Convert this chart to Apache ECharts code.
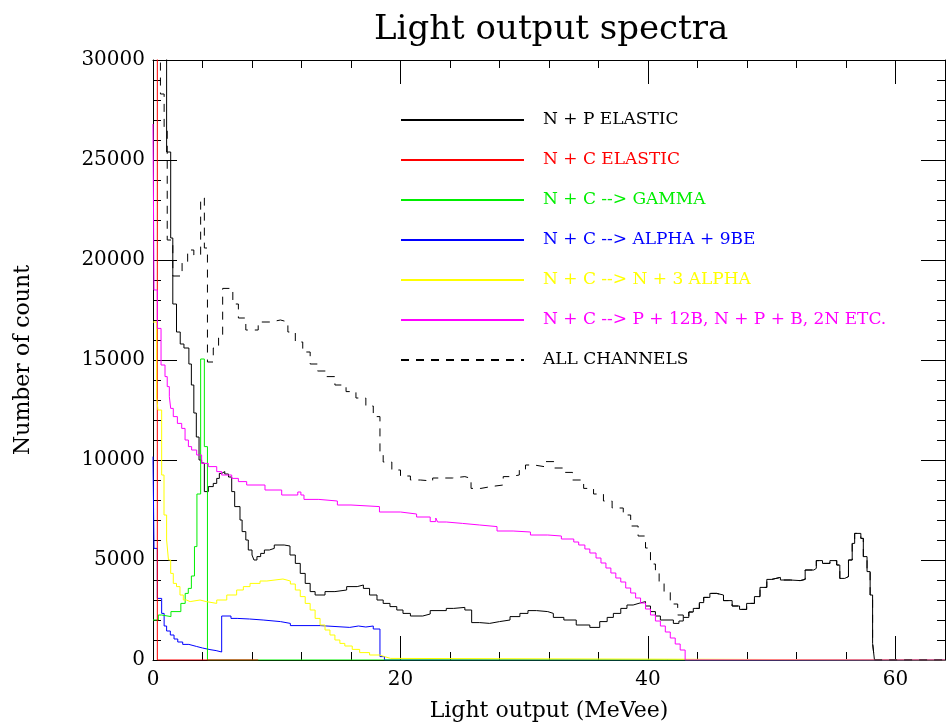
<!DOCTYPE html>
<html>
<head>
<meta charset="utf-8">
<title>Light output spectra</title>
<script src="https://cdn.jsdelivr.net/npm/echarts/dist/echarts.min.js"></script>
<style>
  html, body { margin: 0; padding: 0; background: #fff; }
  #chart { width: 947px; height: 723px; }
</style>
</head>
<body>
<div id="chart"></div>
<script>
// Histogram outlines: [left bin edge (MeVee), counts]; the last pair closes the outline.
const npElastic = [
  [0, 31000], [1.1, 25400], [1.43, 21100], [1.6, 17800], [1.9, 16400], [2.2, 15800], [2.5, 15600],
  [2.9, 14800], [3.1, 13750], [3.3, 12350], [3.5, 11150], [3.72, 10000], [3.93, 9850], [4.15, 8420],
  [4.47, 8670], [4.87, 8830], [5.15, 9080], [5.36, 9330], [5.55, 9420], [5.8, 9300], [6.1, 9150],
  [6.36, 8420], [6.6, 7670], [7.03, 7000], [7.2, 6420], [7.5, 6000], [7.7, 5500], [8.0, 5250],
  [8.16, 5000], [8.4, 5170], [8.7, 5330], [9.0, 5500], [9.4, 5580], [9.8, 5750], [10.6, 5700],
  [11.07, 5250], [11.5, 4830], [11.9, 4330], [12.3, 3830], [12.7, 3420], [13.1, 3250], [13.9, 3420],
  [14.7, 3500], [15.65, 3670], [16.5, 3750], [17.0, 3580], [17.5, 3250], [18.1, 3000], [18.6, 2830],
  [19.15, 2670], [19.7, 2500], [20.2, 2330], [20.8, 2200], [21.8, 2300], [22.4, 2470], [23.7, 2580],
  [24.3, 2630], [25.2, 2500], [25.75, 1870], [26.4, 1830], [27.2, 1920], [28.0, 2000], [28.85, 2170],
  [29.65, 2330], [30.3, 2470], [31.0, 2420], [31.9, 2330], [32.35, 2130], [33.2, 2000], [34.2, 1750],
  [35.3, 1630], [36.1, 1920], [36.7, 2130], [37.2, 2330], [37.8, 2580], [38.3, 2750], [38.8, 2850],
  [39.35, 2920], [39.8, 2700], [40.2, 2420], [40.6, 2200], [41.0, 2000], [42.05, 1830], [42.5, 1950],
  [42.85, 2130], [43.3, 2400], [43.66, 2580], [44.15, 2870], [44.5, 3130], [45.0, 3330], [45.55, 3250],
  [46.1, 2970], [46.8, 2700], [47.4, 2530], [47.97, 2830], [48.6, 3170], [49.05, 3630], [49.6, 4030],
  [50.0, 4130], [50.7, 4000], [51.5, 3970], [52.3, 4030], [52.7, 4500], [53.4, 4580], [53.6, 4970],
  [54.1, 4830], [54.7, 4970], [55.25, 4750], [55.5, 4080], [55.9, 4170], [56.2, 5000], [56.5, 5830],
  [56.7, 6330], [57.2, 6080], [57.4, 5170], [57.7, 4420], [57.95, 3250], [58.15, 830], [58.3, 0], [64, 0]
];

const ncElastic = [[0, 31000], [0.35, 0], [8.5, 0]];

const ncGamma = [
  [0, 2000], [0.43, 2250], [0.7, 2170], [1.45, 2420], [2.25, 2830], [2.6, 3330], [2.85, 3580],
  [3.1, 4200], [3.35, 5670], [3.55, 8300], [3.85, 15050], [4.15, 10670], [4.4, 0], [64, 0]
];

const ncAlpha9Be = [
  [0, 10170], [0.08, 5580], [0.35, 3080], [0.7, 2330], [0.9, 1700], [1.1, 1450], [1.4, 1250],
  [1.7, 1050], [2.0, 900], [2.4, 780], [2.9, 680], [3.5, 600], [4.0, 520], [4.6, 470], [5.1, 400],
  [5.55, 2200], [6.3, 2080], [6.8, 2050], [7.8, 2000], [8.9, 1920], [10.3, 1830], [11.1, 1720],
  [13.5, 1630], [15.9, 1700], [16.6, 1650], [17.2, 1700], [17.8, 1550], [18.34, 170], [18.7, 0], [64, 0]
];

const nc3Alpha = [
  [0, 16900], [0.3, 13100], [0.4, 12500], [0.7, 9250], [0.89, 7250], [1.1, 6000], [1.25, 5000],
  [1.43, 4330], [1.64, 3830], [1.9, 3670], [2.18, 3250], [2.45, 3000], [2.7, 2920], [3.0, 3000],
  [3.8, 2920], [4.3, 2830], [5.15, 3000], [5.96, 3250], [6.76, 3500], [7.3, 3670], [7.84, 3830],
  [8.65, 3950], [9.2, 4050], [10.5, 3950], [11.1, 3800], [11.5, 3500], [11.9, 3170], [12.3, 2830],
  [12.7, 2500], [13.1, 2080], [13.5, 1750], [13.9, 1500], [14.3, 1250], [14.7, 1000], [15.1, 830],
  [15.5, 700], [16.1, 530], [16.7, 370], [17.5, 250], [18.3, 170], [18.7, 80], [19.2, 0], [64, 0]
];

const ncProton12B = [
  [0, 26800], [0.08, 18500], [0.35, 16580], [0.65, 14750], [0.97, 14170], [1.15, 13670], [1.32, 13170],
  [1.43, 12580], [1.64, 12170], [1.97, 11830], [2.32, 11580], [2.59, 11000], [2.86, 10670], [3.12, 10500],
  [3.53, 10250], [3.93, 9830], [4.47, 9670], [5.15, 9420], [5.55, 9250], [6.36, 9080], [6.9, 8920],
  [7.57, 8750], [9.05, 8500], [10.4, 8250], [11.7, 8400], [11.95, 8250], [12.2, 8030], [13.4, 7950],
  [14.9, 7750], [16.0, 7670], [18.3, 7400], [20.0, 7300], [21.3, 7150], [22.4, 6920], [22.85, 7100],
  [23.0, 6900], [23.7, 6830], [25.0, 6750], [26.4, 6670], [27.8, 6450], [29.1, 6400], [30.5, 6250],
  [31.9, 6200], [33.0, 6050], [34.0, 5900], [34.4, 5750], [34.9, 5550], [35.3, 5350], [35.8, 5100],
  [36.2, 4850], [36.6, 4600], [37.0, 4350], [37.4, 4100], [37.8, 3900], [38.2, 3600], [38.6, 3350],
  [39.0, 3100], [39.4, 2850], [39.8, 2550], [40.2, 2250], [40.6, 1950], [41.0, 1700], [41.4, 1400],
  [41.8, 1100], [42.2, 800], [42.6, 500], [43.0, 0], [64, 0]
];

// Sum over channels up to ~43 MeVee; above that it runs on the n-p elastic outline.
const allChannelsLow = [
  [0, 31000], [0.6, 28300], [0.9, 26600], [1.15, 21000], [1.6, 19200], [2.35, 19900], [2.8, 20500],
  [3.3, 20250], [3.85, 23100], [4.15, 20600], [4.4, 14900], [4.87, 15600], [5.3, 16100], [5.63, 18580],
  [6.45, 17800], [6.9, 17100], [7.5, 16500], [8.5, 16900], [9.5, 17000], [10.3, 16900], [10.9, 16400],
  [11.5, 15900], [12.1, 15400], [12.7, 14800], [13.3, 14450], [14.0, 14170], [14.7, 13750], [15.6, 13420],
  [16.4, 13100], [17.2, 12700], [17.8, 12170], [18.34, 10300], [18.6, 9900], [19.3, 9500], [20.0, 9200],
  [20.8, 9000], [21.6, 8950], [22.6, 9100], [24.2, 9170], [25.2, 9080], [25.7, 8580], [26.5, 8670],
  [27.3, 8750], [28.3, 9170], [28.9, 9250], [29.6, 9500], [30.1, 9750], [30.8, 9670], [31.6, 9920],
  [32.4, 9600], [33.2, 9380], [33.9, 9000], [34.8, 8580], [35.6, 8300], [36.4, 7950], [37.1, 7600],
  [38.0, 7250], [38.6, 6700], [39.2, 6200], [39.8, 5600], [40.2, 4800], [40.6, 4400], [40.9, 3900],
  [41.3, 3400], [41.8, 2800], [42.4, 2250]
];
const allChannels = allChannelsLow.concat(npElastic.filter(p => p[0] >= 42.85));

const channelNames = [
  'N + P ELASTIC',
  'N + C ELASTIC',
  'N + C --> GAMMA',
  'N + C --> ALPHA + 9BE',
  'N + C --> N + 3 ALPHA',
  'N + C --> P + 12B, N + P + B, 2N ETC.',
  'ALL CHANNELS'
];
const channelColors = ['#000000', '#ff0000', '#00ee00', '#0000ff', '#ffff00', '#ff00ff', '#000000'];

const xTicks = { min: 0, max: 64, minor: 4, major: 20 };
const yTicks = { min: 0, max: 30000, minor: 1000, major: 5000 };

const FONT = "'DejaVu Serif', 'Liberation Serif', serif";

function stepSeries(idx, data, dashed) {
  return {
    name: channelNames[idx],
    type: 'line',
    step: 'end',
    data: data,
    symbol: 'none',
    clip: true,
    xAxisIndex: 0,
    yAxisIndex: 0,
    color: channelColors[idx],
    lineStyle: { color: channelColors[idx], width: 1, type: dashed ? [8, 7] : 'solid' },
    emphasis: { disabled: true },
    silent: true
  };
}

function xAxisDef(pos, step, len, withLine, withLabel) {
  return {
    type: 'value', position: pos, min: xTicks.min, max: xTicks.max, interval: step,
    axisLine: { show: withLine, onZero: false, lineStyle: { color: '#000', width: 1 } },
    axisTick: { show: true, inside: true, length: len, lineStyle: { color: '#000', width: 1 } },
    axisLabel: withLabel ? {
      show: true, margin: 10, color: '#000', fontFamily: FONT, fontSize: 20,
      formatter: v => (v % xTicks.major === 0 ? String(v) : '')
    } : { show: false },
    splitLine: { show: false }
  };
}

function yAxisDef(pos, step, len, withLine, withLabel) {
  return {
    type: 'value', position: pos, min: yTicks.min, max: yTicks.max, interval: step,
    axisLine: { show: withLine, onZero: false, lineStyle: { color: '#000', width: 1 } },
    axisTick: { show: true, inside: true, length: len, lineStyle: { color: '#000', width: 1 } },
    axisLabel: withLabel ? {
      show: true, margin: 8, color: '#000', fontFamily: FONT, fontSize: 20,
      formatter: v => (v % yTicks.major === 0 ? String(v) : '')
    } : { show: false },
    splitLine: { show: false }
  };
}

const xAxes = [
  xAxisDef('bottom', xTicks.minor, 8, true, true),
  xAxisDef('bottom', xTicks.major, 24, false, false),
  xAxisDef('top', xTicks.minor, 8, true, false),
  xAxisDef('top', xTicks.major, 24, false, false)
];
Object.assign(xAxes[0], {
  name: 'Light output (MeVee)', nameLocation: 'middle', nameGap: 40,
  nameTextStyle: { color: '#000', fontFamily: FONT, fontSize: 22 }
});

const yAxes = [
  yAxisDef('left', yTicks.minor, 8, true, true),
  yAxisDef('left', yTicks.major, 24, false, false),
  yAxisDef('right', yTicks.minor, 8, true, false),
  yAxisDef('right', yTicks.major, 24, false, false)
];
Object.assign(yAxes[0], {
  name: 'Number of count', nameLocation: 'middle', nameGap: 119,
  nameTextStyle: { color: '#000', fontFamily: FONT, fontSize: 22 }
});

const chart = echarts.init(document.getElementById('chart'), null, { renderer: 'canvas' });
chart.setOption({
  animation: false,
  backgroundColor: '#ffffff',
  title: {
    text: 'Light output spectra',
    left: 369, top: 8,
    textStyle: { color: '#000', fontFamily: FONT, fontSize: 34, fontWeight: 'normal' }
  },
  grid: { left: 153, right: 2, top: 60, bottom: 63, containLabel: false, outerBoundsMode: 'none' },
  legend: {
    orient: 'vertical', left: 400, top: 110, padding: 0,
    itemWidth: 123, itemHeight: 20, itemGap: 20,
    selectedMode: false,
    itemStyle: { opacity: 0, color: 'rgba(0,0,0,0)', borderWidth: 0 },
    textStyle: { fontFamily: FONT, fontSize: 17, lineHeight: 20, padding: [0, 0, 0, 14] },
    data: channelNames.map((n, i) => ({ name: n, textStyle: { color: channelColors[i] } }))
  },
  xAxis: xAxes,
  yAxis: yAxes,
  series: [
    stepSeries(0, npElastic),
    stepSeries(3, ncAlpha9Be),
    stepSeries(2, ncGamma),
    stepSeries(1, ncElastic),
    stepSeries(4, nc3Alpha),
    stepSeries(5, ncProton12B),
    stepSeries(6, allChannels, true)
  ]
});
</script>
</body>
</html>
